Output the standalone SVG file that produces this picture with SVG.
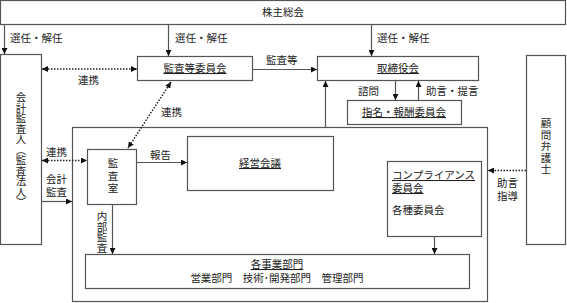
<svg xmlns="http://www.w3.org/2000/svg" width="567" height="303" viewBox="0 0 567 303">
<defs>
<marker id="ah" viewBox="0 0 10 10" refX="10" refY="5" markerWidth="6" markerHeight="6" orient="auto-start-reverse" markerUnits="userSpaceOnUse">
<path d="M0,0 L10,5 L0,10 z" fill="#111"/>
</marker>
<style>
.box{fill:#fff;stroke:#555;stroke-width:1.2}
.ln{fill:none;stroke:#555;stroke-width:1.2}
.dot{fill:none;stroke:#222;stroke-width:1.5;stroke-dasharray:1.5 1.5}
text{font-family:"Liberation Serif","Noto Sans CJK JP",serif;font-size:10.5px;fill:#222}
.c{text-anchor:middle}
.u{text-decoration:underline}
.v{writing-mode:vertical-rl;text-anchor:middle}
</style>
</defs>
<g id="shareholders"><rect class="box" x="0.5" y="0.5" width="565" height="24"/><text class="c" x="283" y="16">株主総会</text></g>
<g id="auditor"><rect class="box" x="0.5" y="54.5" width="41" height="190"/><text class="v" x="20" y="150">会計監査人（監査法人）</text></g>
<g id="audit-committee"><rect class="box" x="137.5" y="56.5" width="115" height="24"/><text class="c u" x="195" y="72">監査等委員会</text></g>
<g id="board"><rect class="box" x="317.5" y="56.5" width="161" height="24"/><text class="c u" x="398" y="72">取締役会</text></g>
<g id="nomination"><rect class="box" x="347.5" y="100.5" width="114" height="24"/><text class="c u" x="404" y="116">指名・報酬委員会</text></g>
<g id="company-frame"><rect class="box" x="72.5" y="127.5" width="415" height="174"/></g>
<g id="audit-office"><rect class="box" x="87.5" y="149.5" width="49" height="55"/><text class="v" x="112" y="177" style="letter-spacing:2px">監査室</text></g>
<g id="management"><rect class="box" x="187.5" y="136.5" width="146" height="54"/><text class="c u" x="260" y="167">経営会議</text></g>
<g id="compliance"><rect class="box" x="387.5" y="161.5" width="94" height="75"/><text class="u" x="392" y="179">コンプライアンス</text><text class="u" x="392" y="192">委員会</text><text x="392" y="214">各種委員会</text></g>
<g id="divisions"><rect class="box" x="85.5" y="254.5" width="384" height="34"/><text class="c u" x="277" y="268">各事業部門</text><text class="c" x="277" y="282">営業部門　技術･開発部門　管理部門</text></g>
<g id="lawyer"><rect class="box" x="526.5" y="55.5" width="39" height="189"/><text class="v" x="545" y="147" style="letter-spacing:1px">顧問弁護士</text></g>
<g id="connectors">
<line class="ln" x1="4.5" y1="25" x2="4.5" y2="54" marker-end="url(#ah)"/>
<line class="ln" x1="168.5" y1="25" x2="168.5" y2="56" marker-end="url(#ah)"/>
<line class="ln" x1="371.5" y1="25" x2="371.5" y2="56" marker-end="url(#ah)"/>
<line class="dot" x1="42" y1="69" x2="137" y2="69" marker-start="url(#ah)" marker-end="url(#ah)"/>
<line class="ln" x1="253" y1="69.5" x2="317" y2="69.5" marker-end="url(#ah)"/>
<line class="ln" x1="325.5" y1="127" x2="325.5" y2="81" marker-end="url(#ah)"/>
<line class="ln" x1="395.5" y1="81" x2="395.5" y2="100" marker-end="url(#ah)"/>
<line class="ln" x1="418.5" y1="100" x2="418.5" y2="81" marker-end="url(#ah)"/>
<line class="dot" x1="171" y1="82" x2="128" y2="148" marker-start="url(#ah)" marker-end="url(#ah)"/>
<line class="dot" x1="42" y1="160.5" x2="87" y2="160.5" marker-start="url(#ah)" marker-end="url(#ah)"/>
<line class="ln" x1="42" y1="201.5" x2="72" y2="201.5" marker-end="url(#ah)"/>
<line class="ln" x1="137" y1="162.5" x2="187" y2="162.5" marker-end="url(#ah)"/>
<line class="ln" x1="112.5" y1="205" x2="112.5" y2="254" marker-end="url(#ah)"/>
<line class="ln" x1="434.5" y1="237" x2="434.5" y2="254" marker-end="url(#ah)"/>
<line class="dot" x1="526" y1="170.5" x2="488" y2="170.5" marker-end="url(#ah)"/>
<text x="10" y="42">選任・解任</text>
<text x="175" y="42">選任・解任</text>
<text x="377" y="42">選任・解任</text>
<text x="78" y="84">連携</text>
<text x="266" y="64">監査等</text>
<text x="358" y="95">諮問</text>
<text x="426" y="95">助言・提言</text>
<text x="161" y="116">連携</text>
<text x="46" y="156">連携</text>
<text x="46" y="183">会計</text>
<text x="46" y="196">監査</text>
<text x="150" y="159">報告</text>
<text class="v" x="101" y="232">内部監査</text>
<text x="497" y="187">助言</text>
<text x="497" y="200">指導</text>
</g>
</svg>
